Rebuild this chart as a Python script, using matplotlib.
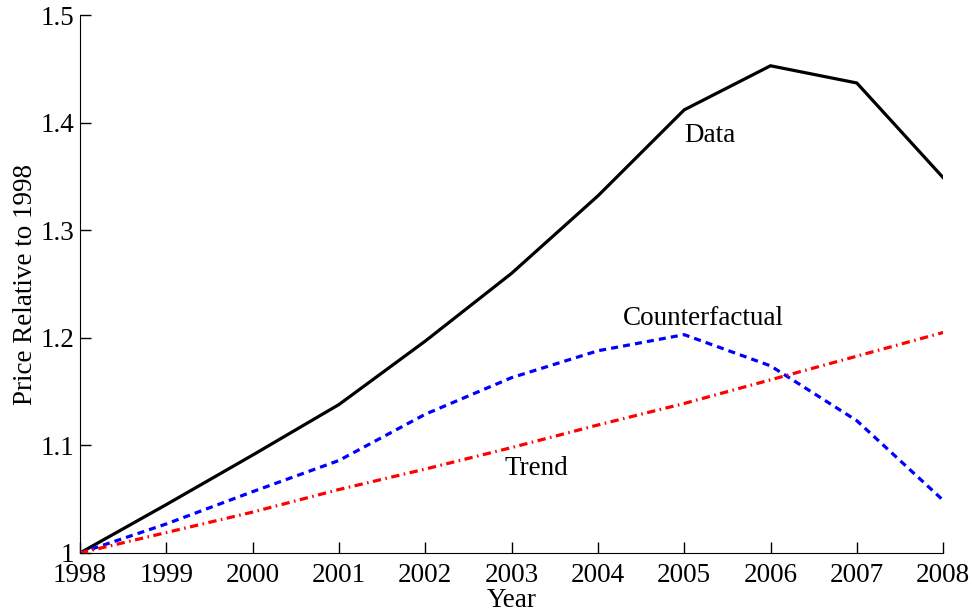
import numpy as np
import matplotlib.pyplot as plt

plt.rcParams['font.family'] = ['Liberation Serif', 'DejaVu Serif']

years = [1998, 1999, 2000, 2001, 2002, 2003, 2004, 2005, 2006, 2007, 2008]
data = [1.0, 1.045, 1.091, 1.138, 1.197, 1.260, 1.332, 1.412, 1.453, 1.437, 1.349]
counterfactual = [1.0, 1.027, 1.057, 1.086, 1.129, 1.163, 1.188, 1.203, 1.174, 1.123, 1.049]
trend = [1.0, 1.019, 1.038, 1.059, 1.078, 1.098, 1.119, 1.139, 1.161, 1.183, 1.205]

yticks = [1, 1.1, 1.2, 1.3, 1.4, 1.5]
yticklabels = ['1', '1.1', '1.2', '1.3', '1.4', '1.5']

fig = plt.figure(figsize=(9.72, 6.09), dpi=100)
ax = fig.add_axes([0.0823, 0.092, 0.888, 0.883])

ax.plot(years, data, color='black', lw=2.3, solid_joinstyle='miter')
ax.plot(years, counterfactual, color='blue', lw=2.3, dashes=(2.2, 1.6))
ax.plot(years, trend, color='red', lw=2.3, dashes=(2.6, 1.4, 0.5, 1.4))

ax.text(2005.0, 1.388, 'Data', fontsize=19.5, va='center', ha='left')
ax.text(2004.29, 1.218, 'Counterfactual', fontsize=19.5, va='center', ha='left')
ax.text(2002.92, 1.079, 'Trend', fontsize=19.5, va='center', ha='left')

ax.set_xlim(1998, 2008)
ax.set_ylim(1, 1.5)
ax.set_xticks(years)
ax.set_xticklabels([str(y) for y in years])
ax.set_yticks(yticks)
ax.set_yticklabels(yticklabels)
ax.tick_params(direction='in', length=8, width=1, labelsize=19.5)
ax.tick_params(axis='x', pad=7)
ax.tick_params(axis='y', pad=4)

ax.spines['top'].set_visible(False)
ax.spines['right'].set_visible(False)

ax.set_xlabel('Year', fontsize=19.5, labelpad=0)
ax.set_ylabel('Price Relative to 1998', fontsize=19.5, labelpad=2)

fig.savefig('out.png', dpi=100)
